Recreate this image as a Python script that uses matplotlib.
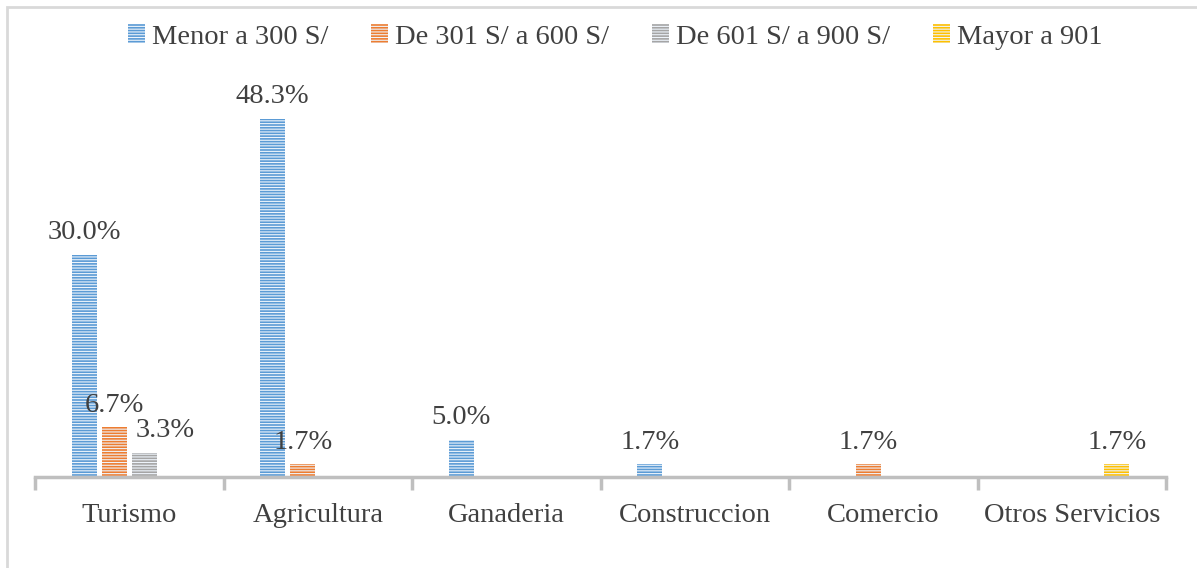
import numpy as np
import matplotlib.pyplot as plt
from matplotlib.patches import Rectangle

plt.rcParams['font.family'] = ['Liberation Serif', 'DejaVu Serif']
plt.rcParams['hatch.linewidth'] = 0.8

categorias = ['Turismo', 'Agricultura', 'Ganaderia', 'Construccion', 'Comercio', 'Otros Servicios']
series = ['Menor a 300 S/', 'De 301 S/ a 600 S/', 'De 601 S/ a 900 S/', 'Mayor a 901']
menor_300 = [30.0, 48.3, 5.0, 1.7, np.nan, np.nan]
de_301_600 = [6.7, 1.7, np.nan, np.nan, 1.7, np.nan]
de_601_900 = [3.3, np.nan, np.nan, np.nan, np.nan, np.nan]
mayor_901 = [np.nan, np.nan, np.nan, np.nan, np.nan, 1.7]
valores = [menor_300, de_301_600, de_601_900, mayor_901]
colores = ['#5b9bd5', '#ed7d31', '#a5a5a5', '#ffc000']

fig = plt.figure(figsize=(11.97, 5.68), dpi=100)
ax = fig.add_axes([35 / 1197, 1 - 477 / 568, (1166 - 35) / 1197, 0.72])

# light frame around the chart area (open to the right and bottom)
fig.patches.append(Rectangle((7 / 1197, -0.1), 1.2, (568 - 7) / 568 + 0.1,
                             transform=fig.transFigure, fill=False,
                             edgecolor='#d9d9d9', linewidth=2, clip_on=False))

x = np.arange(len(categorias))
paso = 0.159
ancho = 0.133
for i, (nombre, vals, col) in enumerate(zip(series, valores, colores)):
    pos = x + (i - 1.5) * paso
    ax.bar(pos, vals, ancho, color=col, edgecolor='#eef4fb', linewidth=0,
           hatch='------', label=nombre)
    for p, v in zip(pos, vals):
        if np.isnan(v):
            continue
        dx = 0
        if nombre == 'De 601 S/ a 900 S/':
            dx = 15
        ax.annotate(f'{v:.1f}%', (p, v), xytext=(dx, 7), textcoords='offset points',
                    ha='center', va='bottom', fontsize=20.5, color='#404040')

ax.set_xlim(-0.5, 5.5)
ax.set_ylim(0, 48.3 * 409 / 358)
ax.set_yticks([])
for s in ['top', 'right', 'left']:
    ax.spines[s].set_visible(False)
ax.spines['bottom'].set_color('#bfbfbf')
ax.spines['bottom'].set_linewidth(2.5)
ax.set_xticks(x)
ax.set_xticklabels(categorias, fontsize=20.5, color='#404040')
ax.tick_params(axis='x', which='major', length=0, pad=19)
ax.set_xticks(np.arange(-0.5, 6.0, 1.0), minor=True)
ax.tick_params(axis='x', which='minor', length=9, width=2.5, color='#bfbfbf')

fig.legend(loc='center', bbox_to_anchor=(0.514, 1 - 37 / 568), ncol=4, frameon=False,
           fontsize=20.5, handlelength=0.6, handleheight=0.6, handletextpad=0.25,
           columnspacing=1.5, labelcolor='#404040')

fig.savefig('out.png', dpi=100)
